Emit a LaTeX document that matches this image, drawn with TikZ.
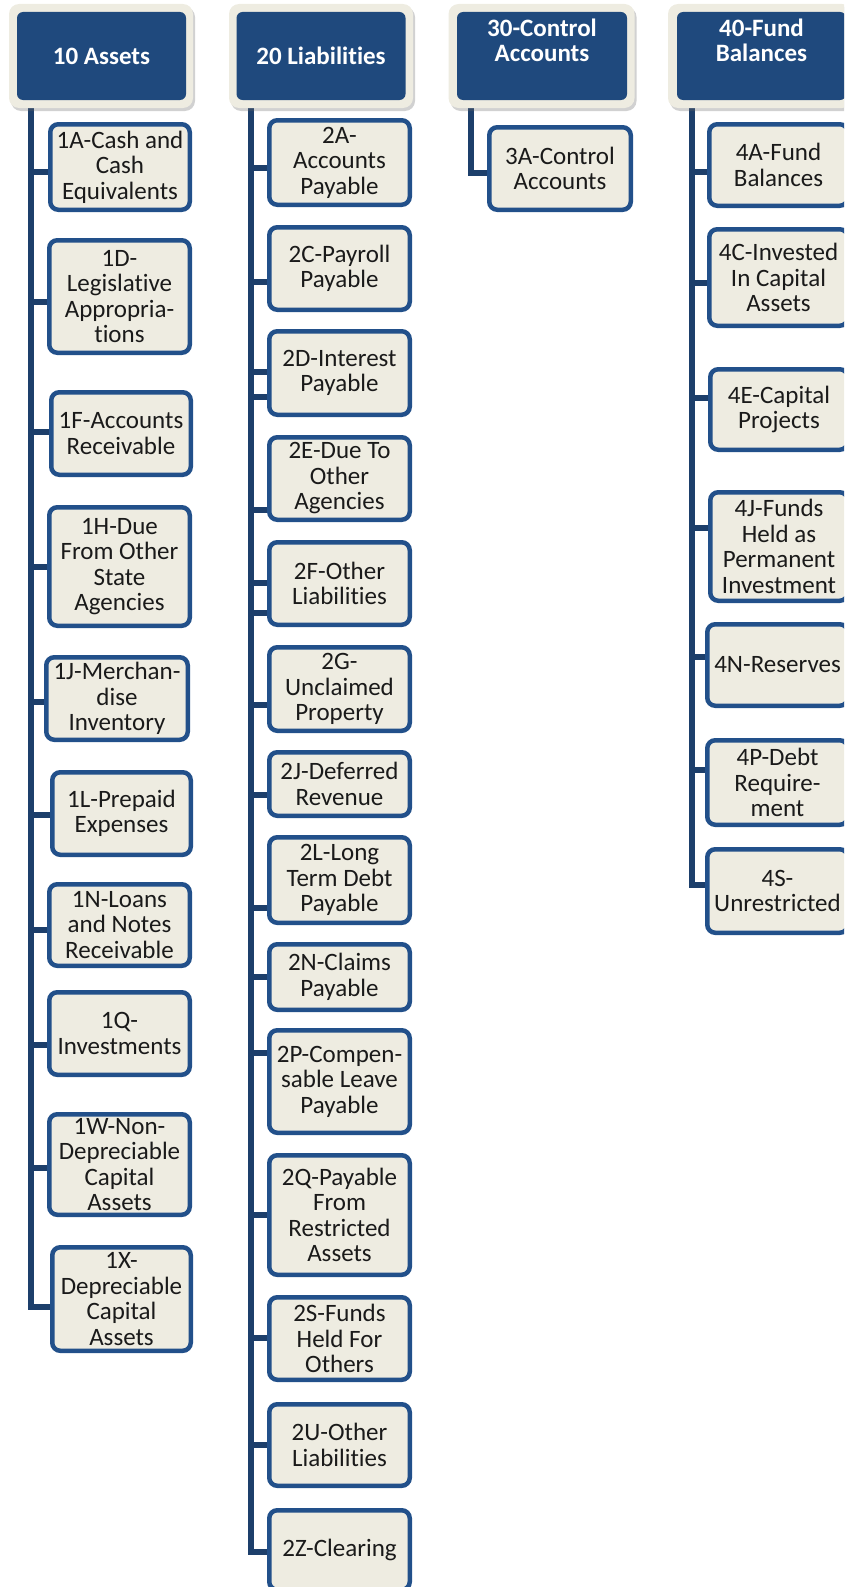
\documentclass[tikz,border=0pt]{standalone}
\usepackage{fontspec}
\setmainfont[Ligatures={NoCommon}]{Carlito}
\usetikzlibrary{shadows,backgrounds}
\definecolor{hdrblue}{HTML}{1F497D}
\definecolor{bordblue}{HTML}{22508A}
\definecolor{linkblue}{HTML}{1D3F6B}
\definecolor{cream}{HTML}{EEECE1}
\definecolor{txt}{HTML}{1A1A1A}
\tikzset{
  childbox/.style={draw=bordblue, line width=4.5pt, fill=cream, rounded corners=8pt, align=center, inner sep=0pt, text=txt, font=\fontsize{25}{25.5}\selectfont},
  hdrframe/.style={fill=cream, rounded corners=10pt, drop shadow={shadow xshift=2pt, shadow yshift=-3pt, opacity=0.3, fill=black!60}},
  hdrbox/.style={fill=hdrblue, rounded corners=6pt, align=center, inner sep=0pt, text=white, font=\bfseries\fontsize{25}{25}\selectfont},
  conn/.style={draw=linkblue, line width=6pt}
}
\newcommand\cbox[6]{\node[childbox, minimum width={(#4-#2-4.5)*1pt}, minimum height={(#5-#3-4.5)*1pt}] (#1) at ({(#2+#4)/2},{(#3+#5)/2}) {#6};}
\newcommand\link[3]{\path (0,#2) coordinate (cy); \draw[conn] (#3 |- cy) -- (#1.west |- cy);}
\newcommand\lastlink[3]{\path (0,#2) coordinate (cy); \draw[conn] (#3) |- (#1.west |- cy);}
\begin{document}
\begin{tikzpicture}[x=1pt, y=-1pt]
\useasboundingbox (0,0) rectangle (844,1587);
\clip (0,0) rectangle (844,1587);
% headers
\node[hdrframe, minimum width=184pt, minimum height=104pt] (f10) at (101,56) {};
\node[hdrbox, minimum width=169pt, minimum height=88pt] (h10) at (101.5,56) {10 Assets};
\node[hdrframe, minimum width=184pt, minimum height=104pt] (f20) at (321,56) {};
\node[hdrbox, minimum width=169pt, minimum height=88pt] (h20) at (321,56) {20 Liabilities};
\node[hdrframe, minimum width=186pt, minimum height=104pt] (f30) at (541.5,56) {};
\node[hdrbox, minimum width=170pt, minimum height=88pt] (h30) at (542,56) {30-Control\\Accounts\\\strut};
\node[hdrframe, minimum width=184pt, minimum height=104pt] (f40) at (760,56) {};
\node[hdrbox, minimum width=169pt, minimum height=88pt] (h40) at (761.5,56) {40-Fund\\Balances\\\strut};
\coordinate (t1) at ([xshift=14pt]h10.south west);
\coordinate (t2) at ([xshift=15pt]h20.south west);
\coordinate (t3) at ([xshift=14.5pt]h30.south west);
\coordinate (t4) at ([xshift=15pt]h40.south west);
% column 1
\cbox{c1A}{48}{122}{192}{212}{1A-Cash and\\Cash\\Equivalents}
\cbox{c1D}{47}{238}{192}{355}{1D-\\Legislative\\Appropria-\\tions}
\cbox{c1F}{49}{390}{193}{477}{1F-Accounts\\Receivable}
\cbox{c1H}{47}{505}{192}{628}{1H-Due\\From Other\\State\\Agencies}
\cbox{c1J}{44}{655}{190}{742}{1J-Merchan-\\dise\\Inventory}
\cbox{c1L}{50}{770}{193}{857}{1L-Prepaid\\Expenses}
\cbox{c1N}{47}{882}{192}{968}{1N-Loans\\and Notes\\Receivable}
\cbox{c1Q}{47}{990}{192}{1077}{1Q-\\Investments}
\cbox{c1W}{47}{1112}{192}{1217}{1W-Non-\\Depreciable\\Capital\\Assets}
\cbox{c1X}{50}{1245}{193}{1353}{1X-\\Depreciable\\Capital\\Assets}
% column 2
\cbox{c2A}{267}{118}{412}{207}{2A-\\Accounts\\Payable}
\cbox{c2C}{267}{225}{412}{312}{2C-Payroll\\Payable}
\cbox{c2D}{267}{329}{412}{417}{2D-Interest\\Payable}
\cbox{c2E}{267}{435}{412}{522}{2E-Due To\\Other\\Agencies}
\cbox{c2F}{267}{540}{412}{627}{2F-Other\\Liabilities}
\cbox{c2G}{267}{645}{412}{733}{2G-\\Unclaimed\\Property}
\cbox{c2J}{267}{750}{412}{818}{2J-Deferred\\Revenue}
\cbox{c2L}{267}{835}{412}{925}{2L-Long\\Term Debt\\Payable}
\cbox{c2N}{267}{942}{412}{1012}{2N-Claims\\Payable}
\cbox{c2P}{267}{1028}{412}{1135}{2P-Compen-\\sable Leave\\Payable}
\cbox{c2Q}{267}{1153}{412}{1277}{2Q-Payable\\From\\Restricted\\Assets}
\cbox{c2S}{267}{1295}{412}{1382}{2S-Funds\\Held For\\Others}
\cbox{c2U}{267}{1402}{412}{1488}{2U-Other\\Liabilities}
\cbox{c2Z}{267}{1508}{412}{1592}{2Z-Clearing}
% column 3
\cbox{c3A}{487}{125}{633}{212}{3A-Control\\Accounts}
% column 4
\cbox{c4A}{707}{122}{850}{208}{4A-Fund\\Balances}
\cbox{c4C}{707}{227}{850}{328}{4C-Invested\\In Capital\\Assets}
\cbox{c4E}{708}{367}{850}{452}{4E-Capital\\Projects}
\cbox{c4J}{708}{490}{850}{603}{4J-Funds\\Held as\\Permanent\\Investment}
\cbox{c4N}{705}{622}{850}{708}{4N-Reserves}
\cbox{c4P}{705}{738}{850}{827}{4P-Debt\\Require-\\ment}
\cbox{c4S}{705}{847}{850}{935}{4S-\\Unrestricted}
% connectors
\begin{pgfonlayer}{background}
\link{c1A}{172}{t1}
\link{c1D}{302}{t1}
\link{c1F}{432}{t1}
\link{c1H}{567}{t1}
\link{c1J}{702}{t1}
\link{c1L}{815}{t1}
\link{c1N}{930}{t1}
\link{c1Q}{1045}{t1}
\link{c1W}{1168}{t1}
\lastlink{c1X}{1307}{t1}
\link{c2A}{168}{t2}
\link{c2C}{282}{t2}
\link{c2D}{372}{t2}
\link{c2D}{397}{t2}
\link{c2E}{510}{t2}
\link{c2F}{583}{t2}
\link{c2F}{613}{t2}
\link{c2G}{705}{t2}
\link{c2J}{795}{t2}
\link{c2L}{908}{t2}
\link{c2N}{977}{t2}
\link{c2P}{1053}{t2}
\link{c2Q}{1215}{t2}
\link{c2S}{1338}{t2}
\link{c2U}{1445}{t2}
\lastlink{c2Z}{1552}{t2}
\lastlink{c3A}{173}{t3}
\link{c4A}{172}{t4}
\link{c4C}{283}{t4}
\link{c4E}{398}{t4}
\link{c4J}{528}{t4}
\link{c4N}{657}{t4}
\link{c4P}{770}{t4}
\lastlink{c4S}{885}{t4}
\end{pgfonlayer}
\end{tikzpicture}
\end{document}
